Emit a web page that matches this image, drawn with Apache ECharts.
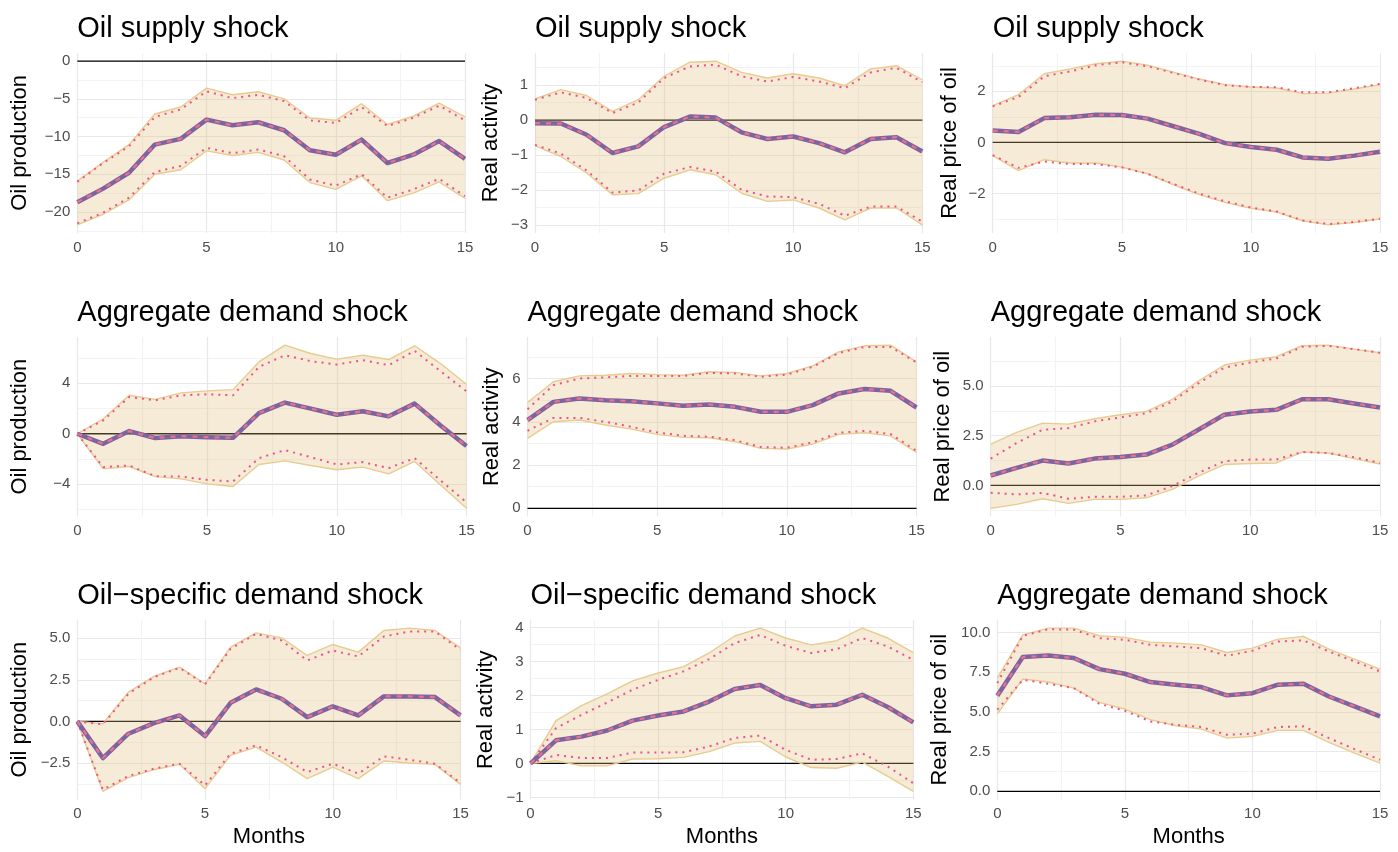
<!DOCTYPE html>
<html><head><meta charset="utf-8">
<script src="https://cdn.jsdelivr.net/npm/echarts@6/dist/echarts.min.js"></script>
<style>html,body{margin:0;padding:0;background:#fff}#c{width:1398px;height:852px}</style>
</head><body><div id="c"></div>
<script>
// ---------------- DATA ----------------
const months = [0,1,2,3,4,5,6,7,8,9,10,11,12,13,14,15];
const xTickLabels = [0,5,10,15];
const xGridTicks = [0,2.5,5,7.5,10,12.5,15];

const panelTitles = ["Oil supply shock","Oil supply shock","Oil supply shock",
  "Aggregate demand shock","Aggregate demand shock","Aggregate demand shock",
  "Oil\u2212specific demand shock","Oil\u2212specific demand shock","Aggregate demand shock"];
const yTitles = ["Oil production","Real activity","Real price of oil"];
const xTitle = "Months";
const yTickSteps = [5,1,2, 4,2,2.5, 2.5,1,2.5];
const yTickDecimals = [0,0,0, 0,0,1, 1,0,1];

// Oil supply shock -> oil production
const sp_prod_med = [-18.7,-16.9,-14.8,-11.06,-10.3,-7.75,-8.5,-8.1,-9.16,-11.8,-12.4,-10.4,-13.5,-12.4,-10.6,-12.95];
const sp_prod_hi  = [-15.9,-13.4,-11.06,-7.0,-6.08,-3.57,-4.45,-4.05,-5.0,-7.53,-7.84,-5.64,-8.4,-7.3,-5.55,-7.4];
const sp_prod_dhi = [-16.0,-13.5,-11.3,-7.4,-6.4,-4.0,-4.9,-4.45,-5.3,-7.84,-8.2,-6.1,-8.6,-7.5,-5.9,-7.84];
const sp_prod_lo  = [-21.7,-20.3,-18.4,-15.0,-14.4,-11.9,-12.5,-12.1,-13.1,-16.1,-17.0,-15.2,-18.5,-17.5,-16.0,-18.2];
const sp_prod_dlo = [-21.5,-20.1,-18.1,-14.7,-13.9,-11.5,-12.2,-11.7,-12.6,-15.7,-16.5,-15.0,-18.1,-17.0,-15.6,-17.9];
// Oil supply shock -> real activity
const sp_act_med = [-0.09,-0.1,-0.42,-0.94,-0.75,-0.2,0.1,0.07,-0.35,-0.54,-0.47,-0.66,-0.92,-0.54,-0.49,-0.9];
const sp_act_hi  = [0.6,0.87,0.7,0.25,0.58,1.25,1.65,1.68,1.36,1.2,1.32,1.2,0.98,1.46,1.55,1.15];
const sp_act_dhi = [0.58,0.79,0.63,0.2,0.5,1.2,1.53,1.58,1.25,1.1,1.23,1.1,0.91,1.36,1.49,1.08];
const sp_act_lo  = [-0.73,-1.04,-1.51,-2.13,-2.1,-1.66,-1.42,-1.56,-2.09,-2.32,-2.28,-2.51,-2.85,-2.51,-2.51,-2.99];
const sp_act_dlo = [-0.71,-0.96,-1.44,-2.07,-2.01,-1.53,-1.34,-1.47,-1.99,-2.18,-2.2,-2.39,-2.73,-2.47,-2.47,-2.9];
// Oil supply shock -> real price of oil
const sp_price_med = [0.46,0.41,0.95,0.98,1.08,1.07,0.93,0.63,0.33,-0.03,-0.18,-0.29,-0.59,-0.64,-0.52,-0.37];
const sp_price_hi  = [1.44,1.87,2.69,2.88,3.08,3.18,3.02,2.75,2.48,2.26,2.17,2.13,1.91,1.93,2.09,2.26];
const sp_price_dhi = [1.41,1.78,2.59,2.78,3.02,3.14,2.98,2.72,2.46,2.24,2.17,2.16,1.96,1.96,2.12,2.29];
const sp_price_lo  = [-0.52,-1.11,-0.68,-0.81,-0.81,-0.97,-1.23,-1.66,-2.05,-2.35,-2.58,-2.73,-3.07,-3.23,-3.14,-3.0];
const sp_price_dlo = [-0.5,-1.0,-0.75,-0.85,-0.85,-0.98,-1.23,-1.63,-2.01,-2.31,-2.55,-2.71,-3.06,-3.2,-3.12,-2.99];
// Aggregate demand shock -> oil production
const ad_prod_med = [0,-0.8,0.21,-0.34,-0.19,-0.27,-0.32,1.64,2.47,1.99,1.51,1.78,1.38,2.39,0.66,-0.98];
const ad_prod_hi  = [0,1.19,3.05,2.73,3.24,3.4,3.5,5.7,7.03,6.37,5.92,6.23,5.89,6.98,5.57,3.93];
const ad_prod_dhi = [0,1.06,2.92,2.65,3.05,3.13,3.05,5.3,6.23,5.76,5.49,5.84,5.44,6.58,4.96,3.37];
const ad_prod_lo  = [0,-2.79,-2.6,-3.4,-3.58,-3.98,-4.19,-2.44,-2.15,-2.52,-2.86,-2.65,-3.18,-2.2,-4.06,-5.92];
const ad_prod_dlo = [0,-2.65,-2.52,-3.37,-3.4,-3.66,-3.79,-1.94,-1.3,-1.86,-2.44,-2.25,-2.73,-1.94,-3.71,-5.44];
// Aggregate demand shock -> real activity
const ad_act_med = [4.08,4.92,5.08,5.0,4.95,4.85,4.74,4.8,4.69,4.46,4.46,4.77,5.31,5.51,5.43,4.66];
const ad_act_hi  = [4.89,5.85,6.12,6.15,6.23,6.18,6.15,6.31,6.28,6.12,6.23,6.58,7.23,7.51,7.54,6.77];
const ad_act_dhi = [4.58,5.69,6.0,6.05,6.12,6.12,6.11,6.26,6.23,6.08,6.18,6.54,7.18,7.46,7.46,6.74];
const ad_act_lo  = [3.23,4.0,4.08,3.85,3.66,3.42,3.28,3.26,3.08,2.77,2.74,2.97,3.42,3.49,3.35,2.58];
const ad_act_dlo = [3.58,4.18,4.18,4.0,3.77,3.51,3.35,3.31,3.15,2.83,2.8,3.05,3.49,3.58,3.43,2.66];
// Aggregate demand shock -> real price of oil
const ad_price_med = [0.5,0.88,1.25,1.1,1.35,1.43,1.55,2.05,2.8,3.55,3.72,3.8,4.33,4.33,4.12,3.92];
const ad_price_hi  = [2.08,2.67,3.13,3.08,3.35,3.55,3.72,4.33,5.25,6.05,6.3,6.47,7.02,7.05,6.85,6.67];
const ad_price_dhi = [1.35,2.13,2.8,2.88,3.22,3.42,3.63,4.22,5.13,5.92,6.18,6.38,6.97,7.02,6.85,6.67];
const ad_price_lo  = [-1.15,-0.95,-0.67,-0.9,-0.7,-0.7,-0.62,-0.2,0.47,1.05,1.1,1.13,1.68,1.63,1.35,1.08];
const ad_price_dlo = [-0.37,-0.45,-0.37,-0.67,-0.57,-0.57,-0.5,-0.03,0.63,1.22,1.3,1.3,1.68,1.63,1.42,1.13];
// Oil-specific demand shock -> oil production
const os_prod_med = [0,-2.2,-0.74,-0.1,0.36,-0.88,1.12,1.92,1.36,0.26,0.9,0.36,1.5,1.5,1.46,0.36];
const os_prod_hi  = [0,-0.14,1.76,2.7,3.26,2.26,4.46,5.32,5.02,3.96,4.62,4.16,5.46,5.6,5.46,4.42];
const os_prod_dhi = [0,-0.18,1.66,2.66,3.22,2.22,4.36,5.26,4.86,3.66,4.26,3.9,5.1,5.4,5.4,4.3];
const os_prod_lo  = [0,-4.2,-3.38,-2.9,-2.58,-4.04,-2.04,-1.54,-2.44,-3.44,-2.74,-3.44,-2.38,-2.5,-2.58,-3.78];
const os_prod_dlo = [0,-4.1,-3.28,-2.84,-2.54,-3.84,-1.94,-1.44,-2.14,-3.04,-2.54,-3.14,-2.1,-2.3,-2.54,-3.7];
// Oil-specific demand shock -> real activity
const os_act_med = [0,0.68,0.79,0.97,1.26,1.41,1.53,1.82,2.19,2.31,1.92,1.68,1.73,2.02,1.66,1.21];
const os_act_hi  = [0,1.26,1.7,2.05,2.43,2.66,2.85,3.25,3.75,3.98,3.69,3.49,3.61,3.98,3.69,3.26];
const os_act_dhi = [0,1.04,1.43,1.79,2.17,2.46,2.71,3.07,3.54,3.78,3.46,3.25,3.36,3.69,3.44,3.05];
const os_act_lo  = [0,0.08,-0.07,-0.07,0.13,0.14,0.18,0.35,0.6,0.65,0.19,-0.12,-0.14,0.04,-0.38,-0.82];
const os_act_dlo = [0,0.25,0.16,0.16,0.32,0.32,0.33,0.5,0.75,0.82,0.4,0.11,0.13,0.3,-0.09,-0.58];
// Bottom-right panel (labelled "Aggregate demand shock") -> real price of oil
const ad2_price_med = [6.02,8.45,8.55,8.39,7.69,7.4,6.88,6.71,6.56,6.04,6.18,6.71,6.77,5.97,5.35,4.72];
const ad2_price_hi  = [7.13,9.85,10.27,10.27,9.79,9.69,9.39,9.33,9.22,8.74,9.01,9.58,9.75,8.95,8.32,7.69];
const ad2_price_dhi = [6.81,9.79,10.21,10.17,9.64,9.54,9.22,9.12,9.01,8.53,8.85,9.43,9.5,8.8,8.18,7.55];
const ad2_price_lo  = [4.88,7.07,6.88,6.5,5.6,5.18,4.51,4.13,3.92,3.35,3.46,3.84,3.84,3.08,2.41,1.78];
const ad2_price_dlo = [5.14,7.02,6.77,6.5,5.51,5.07,4.4,4.19,4.05,3.56,3.63,4.05,4.09,3.35,2.66,1.99];

// ---------------- LAYOUT (pixels) ----------------
const plotBoxes = [
  [77.3,465,53,233],[535,922.3,53,233],[992.7,1380,53,233],
  [77.3,466.5,337,516.5],[527.5,916.5,337,516.5],[990.7,1380,337,516.5],
  [77.3,460.5,620,799.5],[530.5,913.3,620,799.5],[997.3,1380,620,799.5]];
const yTitleCapX = [11.7,482.7,941.7, 11.7,484,935, 11.7,478.3,931.7];

// ---------------- STYLE ----------------
const FONT = "'Liberation Sans', Arial, Helvetica, sans-serif";
const C = {
  major:'#e8e8e8', minor:'#f3f3f3', tick:'#4d4d4d',
  bandLine:'#e8cc8f', bandFill:'rgba(222,190,120,0.3)',
  dotted:'#f0508a', purple:'#7f62a0', pinkDash:'#e8738e', zero:'#000'
};

const panelData = [
  [sp_prod_med,sp_prod_lo,sp_prod_hi,sp_prod_dlo,sp_prod_dhi],
  [sp_act_med,sp_act_lo,sp_act_hi,sp_act_dlo,sp_act_dhi],
  [sp_price_med,sp_price_lo,sp_price_hi,sp_price_dlo,sp_price_dhi],
  [ad_prod_med,ad_prod_lo,ad_prod_hi,ad_prod_dlo,ad_prod_dhi],
  [ad_act_med,ad_act_lo,ad_act_hi,ad_act_dlo,ad_act_dhi],
  [ad_price_med,ad_price_lo,ad_price_hi,ad_price_dlo,ad_price_dhi],
  [os_prod_med,os_prod_lo,os_prod_hi,os_prod_dlo,os_prod_dhi],
  [os_act_med,os_act_lo,os_act_hi,os_act_dlo,os_act_dhi],
  [ad2_price_med,ad2_price_lo,ad2_price_hi,ad2_price_dlo,ad2_price_dhi]
];

const r6 = v => Math.round(v*1e6)/1e6;
const fmt = (v,d) => (v < -1e-9 ? '\u2212' : '') + Math.abs(v).toFixed(d);
const pts = arr => months.map((m,k)=>[m, arr[k]]);

const grids=[], xAxes=[], yAxes=[], series=[], titles=[];
panelData.forEach((pd,i)=>{
  const [med,lo,hi,dlo,dhi] = pd;
  const b = plotBoxes[i];
  const row = Math.floor(i/3), col = i%3;
  grids.push({left:b[0], top:b[2], width:b[1]-b[0], height:b[3]-b[2], outerBoundsMode:'none', containLabel:false});
  const all = [].concat(med,lo,hi,dlo,dhi,[0]);
  const dmin = Math.min(...all), dmax = Math.max(...all), rng = dmax-dmin;
  const ymin = dmin-0.05*rng, ymax = dmax+0.05*rng;
  const st = yTickSteps[i];
  const majors=[], ticks=[];
  for(let k=Math.ceil(ymin/st*2); k<=Math.floor(ymax/st*2); k++){
    const v = r6(k*st/2);
    ticks.push(v);
    if(k%2===0) majors.push(v);
  }
  const tickColors = ticks.map(v => majors.indexOf(v)>=0 ? C.major : C.minor);
  xAxes.push({
    type:'value', gridIndex:i, min:0, max:15,
    axisLine:{show:false}, axisTick:{show:false, customValues:xGridTicks},
    axisLabel:{customValues:xTickLabels, color:C.tick, fontSize:15, margin:7, fontFamily:FONT},
    splitLine:{show:true, lineStyle:{color:xGridTicks.map(v=>v%5===0?C.major:C.minor), width:1.2}},
    name: row===2 ? xTitle : '', nameLocation:'middle', nameGap:26,
    nameTextStyle:{fontSize:22, color:'#000', fontFamily:FONT}
  });
  const dec = yTickDecimals[i];
  yAxes.push({
    type:'value', gridIndex:i, min:ymin, max:ymax,
    axisLine:{show:false}, axisTick:{show:false, customValues:ticks},
    axisLabel:{customValues:majors, formatter:v=>fmt(v,dec), color:C.tick, fontSize:15, margin:7, fontFamily:FONT},
    splitLine:{show:true, lineStyle:{color:tickColors, width:1.2}},
    name: yTitles[col], nameLocation:'middle', nameRotate:90,
    nameGap: b[0]-yTitleCapX[i]-19.1,
    nameTextStyle:{fontSize:22, color:'#000', fontFamily:FONT}
  });
  titles.push({text:panelTitles[i], left:b[0], top:b[2]-35-3.8, padding:0,
    textStyle:{fontSize:29, fontWeight:'normal', color:'#000', fontFamily:FONT}});
  const base = {type:'line', xAxisIndex:i, yAxisIndex:i, symbol:'none', showSymbol:false, silent:true, animation:false, emphasis:{disabled:true}};
  series.push(Object.assign({}, base, {data:[[0,0],[15,0]], lineStyle:{color:C.zero, width:1.3}, z:1}));
  // band fill polygon between lo and hi, positioned through the axis scales
  series.push({
    type:'custom', xAxisIndex:i, yAxisIndex:i, silent:true, animation:false, z:2, clip:true,
    data: months.map((m,k)=>[m, lo[k], hi[k]]),
    encode:{x:0, y:[1,2]},
    renderItem:(params, api)=>{
      if(params.dataIndex !== 0) return null;
      const up = months.map((m,k)=>api.coord([m, hi[k]]));
      const dn = months.map((m,k)=>api.coord([m, lo[k]])).reverse();
      return {type:'polygon', shape:{points: up.concat(dn)}, style:{fill:C.bandFill, stroke:null}};
    }
  });
  series.push(Object.assign({}, base, {data:pts(lo), lineStyle:{color:C.bandLine, width:1.4}, z:2}));
  series.push(Object.assign({}, base, {data:pts(hi), lineStyle:{color:C.bandLine, width:1.4}, z:2}));
  series.push(Object.assign({}, base, {data:pts(dlo), lineStyle:{color:C.dotted, width:2, type:[2,5]}, z:3}));
  series.push(Object.assign({}, base, {data:pts(dhi), lineStyle:{color:C.dotted, width:2, type:[2,5]}, z:3}));
  series.push(Object.assign({}, base, {data:pts(med), lineStyle:{color:C.purple, width:4.5, join:'round'}, z:4}));
  series.push(Object.assign({}, base, {data:pts(med), lineStyle:{color:C.pinkDash, width:2.2, type:[5,6]}, z:5}));
});

const chart = echarts.init(document.getElementById('c'), null, {renderer:'canvas'});
chart.setOption({
  animation:false, backgroundColor:'#fff',
  textStyle:{fontFamily:FONT},
  title:titles, grid:grids, xAxis:xAxes, yAxis:yAxes, series:series, tooltip:{show:false}
});
</script></body></html>
